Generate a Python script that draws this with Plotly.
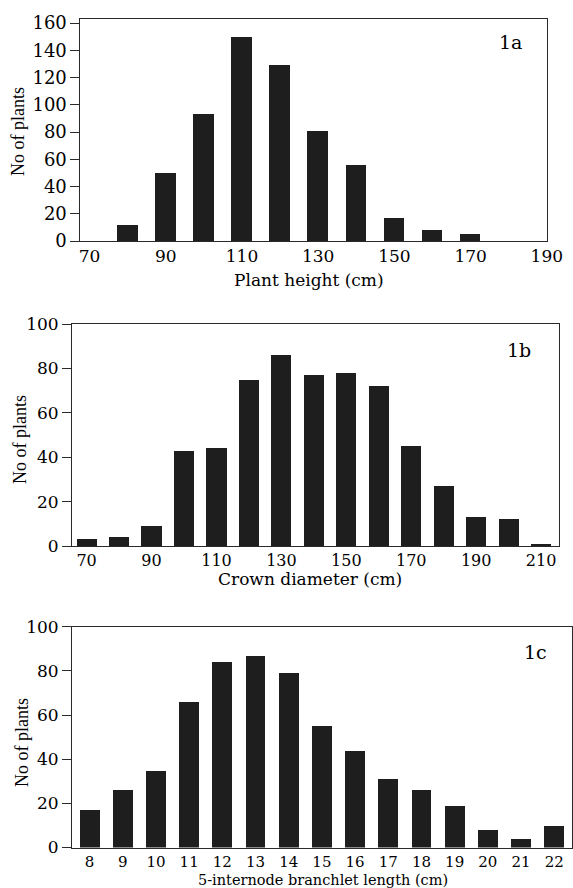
import plotly.graph_objects as go

# ---- data ----
height_bins = [80, 90, 100, 110, 120, 130, 140, 150, 160, 170]
height_counts = [12, 50, 93, 150, 129, 81, 56, 17, 8, 5]
height_ticks = [70, 90, 110, 130, 150, 170, 190]

crown_bins = [70, 80, 90, 100, 110, 120, 130, 140, 150, 160, 170, 180, 190, 200, 210]
crown_counts = [3, 4, 9, 43, 44, 75, 86, 77, 78, 72, 45, 27, 13, 12, 1]
crown_ticks = [70, 90, 110, 130, 150, 170, 190, 210]

branch_bins = [8, 9, 10, 11, 12, 13, 14, 15, 16, 17, 18, 19, 20, 21, 22]
branch_counts = [17, 26, 35, 66, 84, 87, 79, 55, 44, 31, 26, 19, 8, 4, 10]
branch_ticks = [8, 9, 10, 11, 12, 13, 14, 15, 16, 17, 18, 19, 20, 21, 22]

y_ticks_a = [0, 20, 40, 60, 80, 100, 120, 140, 160]
y_ticks_bc = [0, 20, 40, 60, 80, 100]

W, H = 573, 888
BAR = "#1e1e1e"
LINE = "#2a2a2a"
TICKFONT = "DejaVu Serif"
TITLEFONT = "DejaVu Serif"
YTITLEFONT = "Liberation Serif"

fig = go.Figure()
fig.add_trace(go.Bar(x=height_bins, y=height_counts, width=5.4, marker=dict(color=BAR, line=dict(width=0)),
                     xaxis="x", yaxis="y", showlegend=False))
fig.add_trace(go.Bar(x=crown_bins, y=crown_counts, width=6.2, marker=dict(color=BAR, line=dict(width=0)),
                     xaxis="x2", yaxis="y2", showlegend=False))
fig.add_trace(go.Bar(x=branch_bins, y=branch_counts, width=0.6, marker=dict(color=BAR, line=dict(width=0)),
                     xaxis="x3", yaxis="y3", showlegend=False))


def px_x(a, b):
    return [a / W, b / W]


def px_y(top, bottom):
    return [1 - bottom / H, 1 - top / H]


panels = [
    # (suffix, xdomain, ydomain, xrange, yrange, xticks, yticks, x tickfont size, y tickfont size)
    ("", px_x(80.4, 547), px_y(19, 241), [67.6, 190.05], [0, 163], height_ticks, y_ticks_a, 17, 18),
    ("2", px_x(72, 559), px_y(324, 546), [65.5, 215.5], [0, 100], crown_ticks, y_ticks_bc, 16, 17),
    ("3", px_x(72, 571.5), px_y(626.7, 847.5), [7.47, 22.52], [0, 100], branch_ticks, y_ticks_bc, 15, 17),
]

layout = dict(
    width=W, height=H,
    margin=dict(l=0, r=0, t=0, b=0, pad=0),
    plot_bgcolor="white", paper_bgcolor="white",
    bargap=0, showlegend=False,
    template=None,
)

overlay_ids = ["4", "5", "6"]
for (sfx, xd, yd, xr, yr, xt, yt, xfs, yfs), ov in zip(panels, overlay_ids):
    xa = "x" + sfx
    ya = "y" + sfx
    layout["xaxis" + sfx] = dict(
        domain=xd, range=xr, anchor=ya, tickmode="array", tickvals=xt,
        ticks="", showgrid=False, zeroline=False, showline=True, mirror=True,
        linecolor=LINE, linewidth=1, automargin=False,
        tickfont=dict(family=TICKFONT, size=xfs, color="black"),
    )
    layout["yaxis" + sfx] = dict(
        domain=yd, range=yr, anchor=xa, tickmode="array", tickvals=yt,
        ticks="outside", ticklen=9, tickwidth=1, tickcolor=LINE,
        showgrid=False, zeroline=False, showline=True, mirror=True,
        linecolor=LINE, linewidth=1, automargin=False,
        tickfont=dict(family=TICKFONT, size=yfs, color="black"),
    )
    # inner half of the crossing tick marks
    layout["yaxis" + ov] = dict(
        overlaying=ya, anchor=xa, range=yr, tickmode="array", tickvals=yt,
        ticks="inside", ticklen=7, tickwidth=1, tickcolor=LINE,
        showticklabels=False, showgrid=False, zeroline=False, showline=False,
        automargin=False, side="left",
    )

fig.update_layout(**layout)


def ann(text, x, y, size, family, angle=0):
    fig.add_annotation(text=text, x=x / W, y=1 - y / H, xref="paper", yref="paper",
                       xanchor="center", yanchor="middle", showarrow=False, textangle=angle,
                       font=dict(family=family, size=size, color="black"))


# x-axis titles
ann("Plant height (cm)", 309, 280, 17, TITLEFONT)
ann("Crown diameter (cm)", 310, 579, 17, TITLEFONT)
ann("5-internode branchlet length (cm)", 323, 879.5, 14.5, TITLEFONT)

# y-axis titles
ann("No of plants", 18, 132, 18, YTITLEFONT, -90)
ann("No of plants", 20, 440, 18, YTITLEFONT, -90)
ann("No of plants", 22, 743, 18, YTITLEFONT, -90)

# panel labels
ann("1a", 510, 42, 19, TICKFONT)
ann("1b", 519, 350, 19, TICKFONT)
ann("1c", 535, 652, 19, TICKFONT)

fig.write_html(
    "out.html",
    config={"displayModeBar": False},
    post_script="document.body.style.margin='0';document.body.style.overflow='hidden';",
)
